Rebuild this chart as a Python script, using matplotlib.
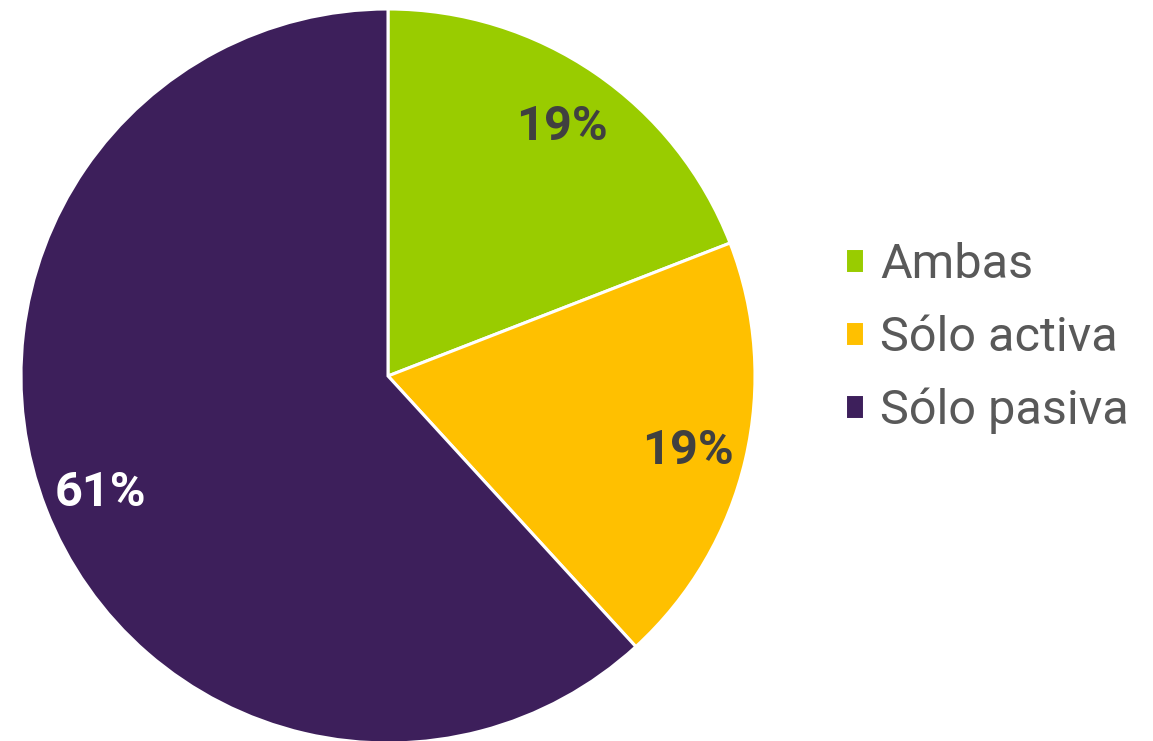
import matplotlib.pyplot as plt
import numpy as np

plt.rcParams['font.family'] = ['Roboto', 'DejaVu Sans']

categories = ['Ambas', 'Sólo activa', 'Sólo pasiva']
values = [19.1, 19.1, 61.8]
pct_labels = ['19%', '19%', '61%']
colors = ['#99CC00', '#FFC000', '#3D1F5B']
label_colors = ['#404040', '#404040', '#FFFFFF']

W, H = 1153, 741
fig = plt.figure(figsize=(W / 100, H / 100), dpi=100)

# pie centre at (388, 376) px, radius 367 px
cx, cy, r = 388, 376, 367
ax = fig.add_axes([(cx - r) / W, (H - cy - r) / H, 2 * r / W, 2 * r / H])

wedges, _ = ax.pie(values, colors=colors, startangle=90, counterclock=False,
                   radius=1, wedgeprops=dict(edgecolor='white', linewidth=2.2))

ang = 90.0
for w, lab, c in zip(values, pct_labels, label_colors):
    mid = ang - w * 3.6 / 2
    ang -= w * 3.6
    x = 0.84 * np.cos(np.radians(mid))
    y = 0.84 * np.sin(np.radians(mid))
    ax.text(x, y, lab, ha='center', va='center_baseline', fontsize=35,
            fontweight='bold', color=c)

ax.set_xlim(-1, 1)
ax.set_ylim(-1, 1)
ax.set_aspect('equal')
ax.axis('off')

fig.legend(wedges, categories, loc='center left',
           bbox_to_anchor=(845 / W, 1 - 338 / H), frameon=False,
           fontsize=35, labelcolor='#595959', handlelength=0.4,
           handleheight=0.4, handletextpad=0.33, labelspacing=0.55,
           borderpad=0, borderaxespad=0)

fig.savefig('out.png', dpi=100)
